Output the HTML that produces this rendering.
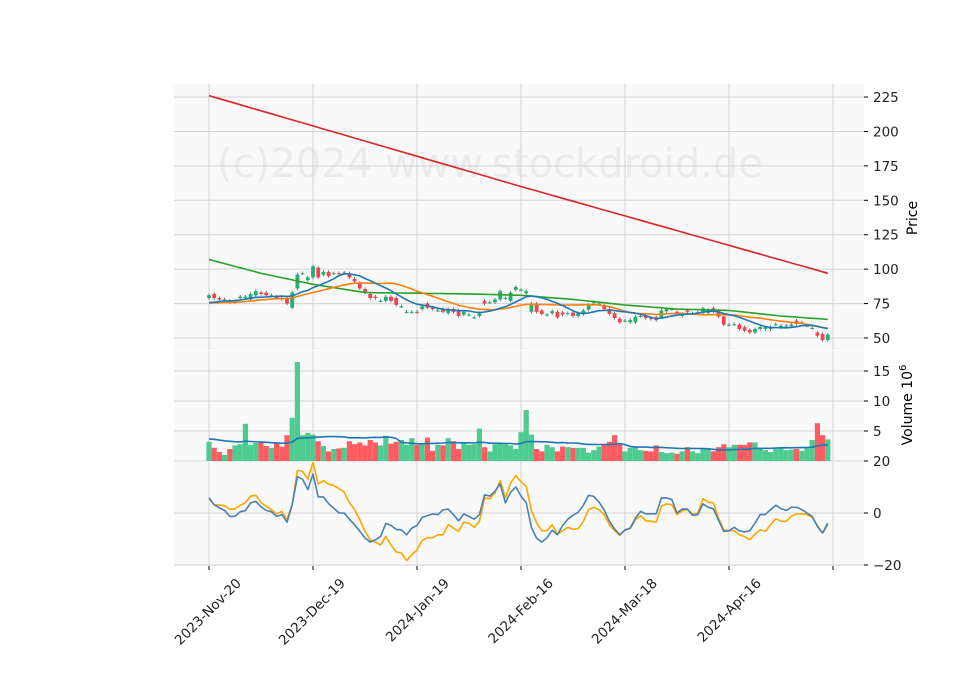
<!DOCTYPE html>
<html><head><meta charset="utf-8"><style>
body{margin:0;background:#fff}
svg{display:block;font-family:"DejaVu Sans","Liberation Sans",sans-serif}
</style></head><body>
<svg id="c" width="960" height="690" xmlns="http://www.w3.org/2000/svg">
<rect x="174" y="84" width="690" height="266" fill="#f9f9f9"/>
<rect x="174" y="351" width="690" height="110" fill="#f9f9f9"/>
<rect x="174" y="462" width="690" height="104" fill="#f9f9f9"/>
<text x="490" y="177" font-size="40" fill="#ebebeb" text-anchor="middle">(c)2024 www.stockdroid.de</text>
<g id="grid"></g><g id="marks"></g><g id="axes"></g>
<text transform="translate(917,218) rotate(-90)" font-size="14" text-anchor="middle" fill="#000">Price</text>
<text transform="translate(912,405) rotate(-90)" font-size="14" text-anchor="middle" fill="#000">Volume  10<tspan font-size="10" dy="-6">6</tspan></text>
</svg>
<script>
const opens=[79,82,79,78,77,76,79,79,78,81,83,83,81,80,79,79,72,86,97,92,94,101,96,98,97,97,97,97,93,90,85.5,82,80,77,77,80,79,73,69,69,69,71,75,72,70,71,68,71,70,67,67,65,66,77,76,76,78,79,77,85,85,82.5,69,75,70,67,68,69,68.5,68,68.5,66,67.5,70.6,76,75,73.5,71,68,64,62.6,61.4,61.4,66,66,64.5,65,65,69.4,71,69,66,70,68,68.7,68,68,71.6,70,65.5,59.7,60,59.7,57.8,55.8,54,56.5,56.5,56.5,60,57.8,59,58.5,62.6,61.4,59,57.3,54,53,48.5];
const closes=[81,79,78,78,76,77,80,80,82,84,82,81,81,79,78,75,83,96,97,94,102,94,98,95,97,96.5,97.5,94,91,86,83,79,79,77,80,77,74,73,69,69,68.6,73,72,71,70,69,71,69,66,69,67,65,68,75,76,78,84,79,83,87,85,84,75,69,67.5,67,69.5,65,67,68,66,68,70,74,76,75,71,67.5,64.5,61.4,62.6,63,65.5,66,64.5,63.8,63,70,71,71,68,67.5,69,68,68.7,71.6,70.4,69.4,65.5,59.7,59.7,60,56.5,55.3,54,56.5,58,57.8,58,60,59,59,59.7,60.2,61.4,59,57.3,51.7,48.5,52.4];
const volumes=[3.2,2.2,1.5,1,2,2.6,2.8,6.2,2.7,3,3.1,2.5,2.2,3.1,2.4,4.3,7.2,16.5,4.3,4.7,4.4,3.3,2.5,1.6,2,2.1,2.2,3.3,2.8,3.1,2.6,3.5,3.1,2.6,4.2,2.9,3.2,3.5,2.7,3.8,2.7,2.8,3.9,1.7,2.7,2.6,3.8,3.3,2,3,2.7,2.8,5.4,2.3,1.6,2.8,2.9,2.8,2.6,2,4.8,8.5,4.4,2,1.6,2.7,2.3,1.6,2.4,2.3,2.2,2.2,2.2,1.4,1.8,2.4,2.7,3.2,4.3,3,1.6,2.2,2.3,1.8,1.7,1.6,2.6,1.5,1.3,1.4,1.2,1.6,2.3,1.6,1.3,2.1,2.1,1.6,2.3,2.8,2.3,2.7,2.7,2.7,3.1,3.1,2.2,1.8,1.5,2,2.3,1.8,1.9,2,1.7,2.1,3.5,6.3,4.3,3.6];
const history=[75,74,76,75,77,74,73,75,76,74,75,76,74,73,75,76,75,74,76,77];
const volHistory=[3.8,3.6,3.9,3.5,3.7,3.8,3.6,3.7,3.9,3.8,3.5,3.7,3.6,3.8,3.9,3.7,3.6,3.8,3.7,3.6];
const ma50Idx=[0,10,20,30,40,50,60,70,80,90,100,110,119];
const ma50Vals=[107,97,89,83,82.5,82,81,78,74,71,70,66,63.5];
const ma200Idx=[0,60,119];
const ma200Vals=[226,160,97];
const oscA=[5.8,3.2,2,1,-1.3,-1.3,0.5,0.9,3.9,4.5,2.4,1,0.5,-1.3,-0.6,-3.5,3.2,14,13,9,15,6.2,6.2,3.6,1.8,0,0,-2.4,-4.5,-7,-9.6,-11.2,-10.3,-9,-4,-4.8,-6.3,-6.5,-8.4,-5.8,-4.8,-1.7,-1,-0.4,-0.6,1.2,1.5,-0.6,-3,-0.4,-1.3,-2.4,-0.6,7,6.5,8.4,11.2,3.9,8,10,6.5,4,-5.5,-9.7,-11.2,-9.5,-6.6,-8.4,-4.8,-2.4,-0.9,0.3,3,6.8,6.4,4.2,1.2,-3.2,-6.1,-8.4,-6.5,-5.8,-2,0.6,-0.3,-0.3,-0.3,5.8,5.8,5.2,0,1.5,1.5,-0.9,-0.6,3.5,2.2,1.6,-2.8,-7.1,-6.8,-5.5,-6.8,-7.3,-6.8,-3.9,-0.6,-0.6,1.3,3,1.7,1,2.2,2.2,1.3,0,-1.3,-5.2,-7.7,-3.9];
const oscB=[5.4,3.2,3,2.8,1.5,1.5,3,3.9,6.5,6.8,4,2.6,1.3,-0.3,0.6,-2.6,3.2,16.4,16,13,19.4,11.2,12.5,11,10.6,9.4,8,4,1.3,-2.6,-7,-10.3,-11.2,-12.3,-9,-12.3,-15,-15.4,-18.3,-16,-14.2,-10.5,-9.5,-9.5,-8.4,-8.4,-4.5,-5.8,-7.1,-3.5,-3.9,-5.5,-3.2,5.8,5.5,7.7,12.5,5.8,11.5,14.4,12,10.3,1,-3.9,-6.8,-6.8,-4.5,-8.1,-6.8,-5.5,-6.3,-6,-3.2,1.3,2.2,1.3,-0.6,-4.5,-6.8,-8.6,-6.5,-6,-2.6,-1,-3,-3.2,-3.5,2.6,3.5,3.2,-0.6,0.9,1.3,-0.4,0,5.5,4.2,3.9,-2,-6.5,-6.8,-6.8,-8.4,-9,-10.3,-8.1,-6.5,-7,-4.5,-2.2,-3.2,-3.2,-1.3,-0.3,-0.3,-0.6,-1.6,-4.8,-7.7,-4.5];
const dateTicks=[0,20,40,60,80,100,120];
const dateLabels=["2023-Nov-20","2023-Dec-19","2024-Jan-19","2024-Feb-16","2024-Mar-18","2024-Apr-16",""];
const priceTicks=[50,75,100,125,150,175,200,225];
const volTicks=[5,10,15];
const oscTicks=[-20,0,20];

const NS="http://www.w3.org/2000/svg";
const X=i=>209+i*5.2;
const YP=p=>338-(p-50)*1.377;
const YV=v=>461-v*6;
const YO=v=>513-v*2.6;
function mk(tag,attrs,parent){const e=document.createElementNS(NS,tag);for(const k in attrs)e.setAttribute(k,attrs[k]);parent.appendChild(e);return e;}
const grid=document.getElementById('grid'),marks=document.getElementById('marks'),axes=document.getElementById('axes');

dateTicks.forEach(t=>{[[84,350],[351,461],[462,566]].forEach(r=>{const l=mk('line',{x1:X(t),x2:X(t),y1:r[0],y2:r[1],stroke:'#d3d3d3','stroke-width':1},grid);

});});
function hTicks(ticks,fy,name){ticks.forEach(t=>{const y=fy(t);
const g=mk('line',{x1:174,x2:864,y1:y,y2:y,stroke:'#d3d3d3','stroke-width':1},grid);


mk('line',{x1:864,x2:868,y1:y,y2:y,stroke:'#000'},axes);
const tx=mk('text',{x:873,y:y+5,'font-size':13.5,fill:'#222'},axes);tx.textContent=(t<0?'\u2212'+(-t):t);

});}
hTicks(priceTicks,YP,'price');hTicks(volTicks,YV,'volume');hTicks(oscTicks,YO,'oscillator');
dateTicks.forEach((t,k)=>{const x=X(t);mk('line',{x1:x,x2:x,y1:566,y2:570,stroke:'#000'},axes);
if(dateLabels[k]){const tx=mk('text',{transform:`translate(${x+33},${584}) rotate(-45)`,'text-anchor':'end','font-size':13.5,fill:'#222'},axes);tx.textContent=dateLabels[k];

}});

function line(vals,fx,fy,color,w,name){const pts=vals.map((v,i)=>fx(i).toFixed(1)+','+fy(v).toFixed(1)).join(' ');
const p=mk('polyline',{points:pts,fill:'none',stroke:color,'stroke-width':w,'stroke-linejoin':'round'},marks);

}
function sma(arr,hist,n){const all=hist.concat(arr);return arr.map((_,i)=>{const j=i+hist.length;const s=all.slice(Math.max(0,j-n+1),j+1);return s.reduce((a,b)=>a+b,0)/s.length;});}
function interp(idx,vals){const out=[];for(let i=0;i<closes.length;i++){let k=0;while(k<idx.length-2&&i>idx[k+1])k++;const t=(i-idx[k])/(idx[k+1]-idx[k]);out.push(vals[k]+(vals[k+1]-vals[k])*t);}return out;}

closes.forEach((c,i)=>{const o=opens[i];const up=c>=o;const col=up?'#20b070':'#f4424f';const x=X(i);
const w=mk('line',{x1:x,x2:x,y1:YP(Math.max(o,c)+1.2),y2:YP(Math.min(o,c)-1.2),stroke:'#555','stroke-width':0.8},marks);


const top=YP(Math.max(o,c)),h=Math.max(1,YP(Math.min(o,c))-top);
const b=mk('rect',{x:x-1.9,y:top,width:3.8,height:h,fill:col},marks);


const v=mk('rect',{x:x-2.6,y:YV(volumes[i]),width:5.2,height:volumes[i]*6,fill:up?'#4ecb90':'#ff5c62'},marks);

});

line(interp(ma200Idx,ma200Vals),X,YP,'#d62728',1.6,'ma200-line');
line(interp(ma50Idx,ma50Vals),X,YP,'#2ca02c',1.6,'ma50-line');
line(sma(closes,history,20),X,YP,'#ff7f0e',1.6,'ma20-line');
line(sma(closes,history,10),X,YP,'#1f77b4',1.6,'ma10-line');
line(sma(volumes,volHistory,20),X,YV,'#1f77b4',1.6,'volume-ma-line');
line(oscB,X,YO,'#ffa500',1.6,'oscillator-signal-line');
line(oscA,X,YO,'#4682b4',1.6,'oscillator-line');
</script>
</body></html>
